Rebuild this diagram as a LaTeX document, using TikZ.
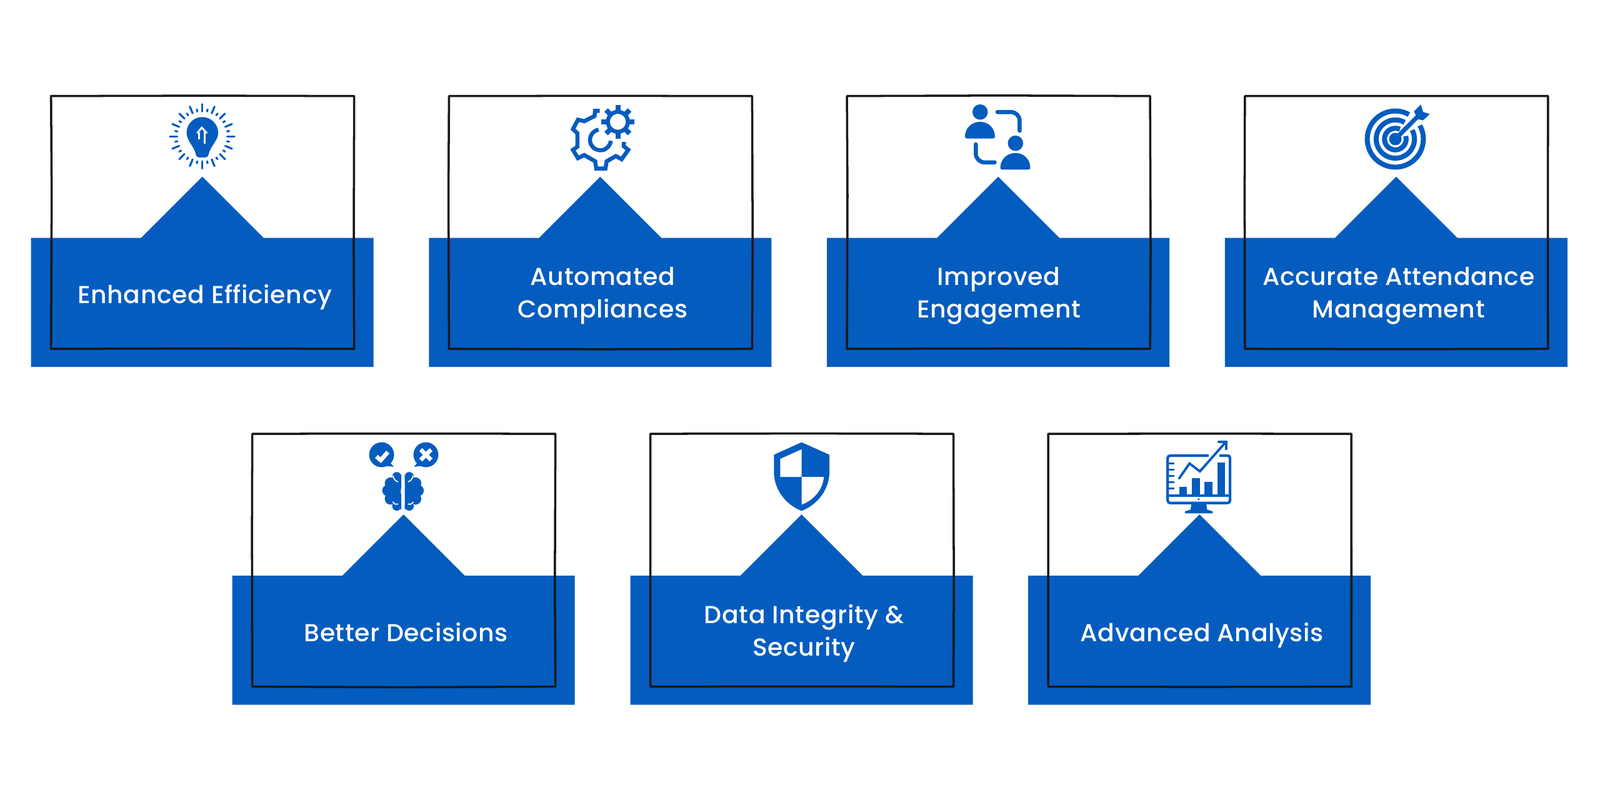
\documentclass[tikz,border=0pt]{standalone}
\usepackage{fontspec}
\usepackage{xcolor}
\usetikzlibrary{decorations.pathmorphing}
\setmainfont{Poppins Medium}[LetterSpace=1.6]
\definecolor{cardblue}{HTML}{045CBF}
\tikzset{
  cardshape/.style={fill=cardblue, draw=none},
  sketchframe/.style={draw=black!90, line width=1pt, line join=round,
    decorate, decoration={random steps, segment length=70pt, amplitude=0.3pt}},
  cardlabel/.style={text=white, align=center, font=\fontsize{11.2}{14.6}\selectfont,
    execute at begin node=\strut, execute at end node=\strut},
  iconunits/.style={x=0.003333cm, y=-0.003333cm},
  iconfill/.style={fill=cardblue, draw=none},
  iconline/.style={draw=cardblue, line width=#1cm, fill=none},
  iconwhite/.style={draw=white, line width=#1cm, fill=none}
}
\begin{document}
\begin{tikzpicture}
\useasboundingbox (0,0) rectangle (25.6,12.95);

% Cards
\foreach \cardx/\cardy/\labelx/\name/\cardtext in {
    3.237/10.123/0.04/efficiency/{Enhanced Efficiency},
    9.604/10.123/0.04/compliance/{Automated\\Compliances},
    15.971/10.123/0.01/engagement/{Improved\\Engagement},
    22.338/10.123/0.04/attendance/{Accurate Attendance\\Management},
    6.457/4.719/0.04/decisions/{Better Decisions},
    12.825/4.719/0.04/security/{Data Integrity \&\\Security},
    19.192/4.719/0.04/analysis/{Advanced Analysis}} {
  \begin{scope}[shift={(\cardx,\cardy)}]
    \fill[cardshape] (0,0) -- (0.98,-0.98) -- (2.74,-0.98) -- (2.74,-3.045)
      -- (-2.74,-3.045) -- (-2.74,-0.98) -- (-0.98,-0.98) -- cycle;
    \draw[sketchframe] (-2.42,1.29) -- (2.43,1.29) -- (2.43,-2.755)
      -- (-2.42,-2.755) -- cycle;
    \node[cardlabel] (\name) at (\labelx,-1.93) {\cardtext};
  \end{scope}
}

% Light bulb
\begin{scope}[shift={(2.5,11.45)}, iconunits]
  \fill[iconfill] (221,112) .. controls (180,112) and (146,145) .. (146,188)
    .. controls (146,225) and (180,250) .. (190,290)
    .. controls (192,302) and (198,306) .. (205,306) -- (237,306)
    .. controls (245,306) and (250,302) .. (252,290)
    .. controls (262,250) and (298,225) .. (298,188)
    .. controls (298,145) and (262,112) .. (221,112) -- cycle;
  \draw[iconwhite=0.03] (197,190) -- (219,163) -- (244,190);
  \draw[iconwhite=0.03] (207,186) -- (207,218);
  \draw[iconwhite=0.03] (233,180) -- (233,240);
  \begin{scope}[shift={(221,205)}]
    \foreach \a in {0,22.5,...,337.5} {
      \draw[iconline=0.032, line cap=round] (\a:120) -- (\a:155);
      \draw[iconline=0.032, line cap=round] (\a+11.25:122) -- (\a+11.25:132);
    }
  \end{scope}
\end{scope}

% Gears
\begin{scope}[shift={(8.815,11.45)}, iconunits]
  \draw[iconline=0.065, line join=miter] (235,82) -- (212,82) -- (210,107) -- (160,132) -- (130,125)
    -- (106,170) -- (127,190) -- (127,255) -- (106,270) -- (130,310) -- (160,295)
    -- (213,325) -- (218,360) -- (262,360) -- (268,325) -- (312,300) -- (340,315)
    -- (372,270) -- (350,252) -- (352,232);
  \draw[iconline=0.065] (322,135) circle (48);
  \foreach \a in {0,45,...,315}
    \draw[iconline=0.08] (322,135) ++(\a:50) -- ++(\a:30);
  \draw[iconline=0.065] (238,222) ++(-100:50) arc (-100:-355:50);
\end{scope}

% People
\begin{scope}[shift={(15.2,11.45)}, iconunits]
  \foreach \dx/\dy in {0/0,170/150} {
    \begin{scope}[shift={(\dx,\dy)}]
      \fill[iconfill] (145,88) circle (37);
      \fill[iconfill] (72,206) .. controls (72,165) and (105,135) .. (145,135)
        .. controls (185,135) and (216,165) .. (216,206)
        .. controls (216,212) and (212,215) .. (207,215) -- (81,215)
        .. controls (76,215) and (72,212) .. (72,206) -- cycle;
    \end{scope}
  }
  \draw[iconline=0.065, line cap=round, rounded corners=0.14cm] (228,88) -- (335,88) -- (335,178);
  \draw[iconline=0.065, line cap=round, rounded corners=0.14cm] (124,243) -- (124,330) -- (215,330);
\end{scope}

% Target
\begin{scope}[shift={(21.6,11.45)}, iconunits]
  \begin{scope}[shift={(218,218)}]
    \draw[iconline=0.08] (-61:135) arc (-61:-389:135);
    \draw[iconline=0.08] (-61:92) arc (-61:-388:92);
    \draw[iconline=0.08] (-65:52) arc (-65:-376:52);
    \fill[iconfill] (0,0) circle (30);
  \end{scope}
  \draw[iconline=0.07] (218,218) -- (330,105);
  \fill[iconfill] (308,85) -- (340,52) -- (352,88) -- (384,97) -- (352,128) -- (325,122) -- cycle;
\end{scope}

% Brain and speech bubbles
\begin{scope}[shift={(5.7,6.0)}, iconunits]
  \fill[iconfill] (122,98) circle (60);
  \fill[iconfill] (150,120) -- (180,156) -- (130,150) -- cycle;
  \fill[iconfill] (335,98) circle (60);
  \fill[iconfill] (307,120) -- (278,156) -- (328,150) -- cycle;
  \draw[iconwhite=0.067] (97,106) -- (118,124) -- (152,85);
  \draw[iconwhite=0.067] (310,73) -- (360,123);
  \draw[iconwhite=0.067] (360,73) -- (310,123);
  \foreach \s in {1,-1} {
    \begin{scope}[shift={(225,0)}, xscale=\s]
      \fill[iconfill] (30,203) circle (22);
      \fill[iconfill] (60,235) circle (28);
      \fill[iconfill] (72,270) circle (28);
      \fill[iconfill] (60,310) circle (28);
      \fill[iconfill] (30,345) circle (22);
      \fill[iconfill] (8,195) -- (40,190) -- (70,270) -- (40,350) -- (8,362) -- cycle;
      \draw[iconwhite=0.018, line cap=round] (48,200) .. controls (45,215) and (35,225) .. (25,228);
      \draw[iconwhite=0.018, line cap=round] (48,325) .. controls (45,335) and (35,338) .. (25,335);
    \end{scope}
  }
  \draw[iconwhite=0.018, line cap=round] (232,252) .. controls (218,255) and (215,262) .. (218,285);
\end{scope}

% Shield
\begin{scope}[shift={(12.1,6.0)}, iconunits]
  \fill[iconfill] (218,38) -- (352,98) -- (352,180) .. controls (352,270) and (290,340) .. (218,368)
    .. controls (146,340) and (85,270) .. (85,180) -- (85,98) -- cycle;
  \fill[white] (218,72) -- (218,205) -- (115,205) -- (115,118) -- cycle;
  \fill[white] (218,205) -- (325,205) .. controls (320,270) and (270,320) .. (218,338) -- cycle;
\end{scope}

% Monitor with chart
\begin{scope}[shift={(18.4,6.0)}, iconunits]
  \draw[iconline=0.042, rounded corners=0.04cm] (282,102) -- (85,102) -- (85,330) -- (385,330) -- (385,102) -- (334,102);
  \draw[iconline=0.042] (85,295) -- (385,295);
  \fill[iconfill] (234,312) circle (5);
  \fill[iconfill] (200,330) -- (270,330) -- (275,362) -- (302,370) -- (302,380) -- (168,380)
    -- (168,370) -- (195,362) -- cycle;
  \foreach \ty in {140,170,200,230,260}
    \draw[iconline=0.025] (88,\ty) -- (118,\ty);
  \fill[iconfill] (140,252) rectangle (178,295);
  \fill[iconfill] (202,210) rectangle (240,295);
  \fill[iconfill] (262,228) rectangle (300,295);
  \fill[iconfill] (325,135) rectangle (362,295);
  \draw[iconline=0.038, line cap=round] (140,212) -- (190,140) -- (240,178) -- (360,42);
  \draw[iconline=0.038, line cap=round] (330,36) -- (366,36) -- (366,70);
\end{scope}
\end{tikzpicture}
\end{document}
